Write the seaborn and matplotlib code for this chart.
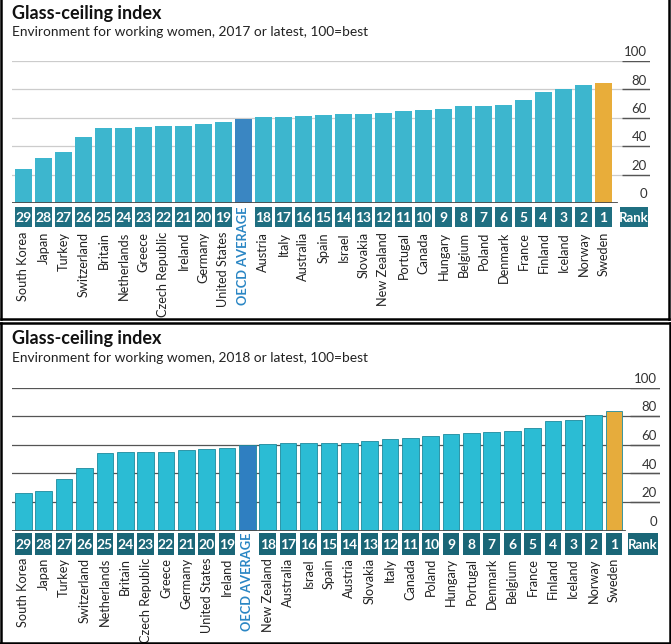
import matplotlib
matplotlib.use("Agg")
import matplotlib.pyplot as plt
from matplotlib.lines import Line2D
import seaborn as sns

W, H = 671, 644

countries_2017 = ["South Korea", "Japan", "Turkey", "Switzerland", "Britain", "Netherlands",
                  "Greece", "Czech Republic", "Ireland", "Germany", "United States",
                  "OECD AVERAGE", "Austria", "Italy", "Australia", "Spain", "Israel",
                  "Slovakia", "New Zealand", "Portugal", "Canada", "Hungary", "Belgium",
                  "Poland", "Denmark", "France", "Finland", "Iceland", "Norway", "Sweden"]
values_2017 = [24.0, 31.7, 36.0, 46.5, 53.0, 53.0, 53.5, 54.0, 54.5, 55.4, 56.8,
               59.4, 60.3, 60.8, 61.3, 61.7, 62.4, 62.6, 63.4, 64.6, 65.5, 66.4, 68.1,
               68.1, 69.0, 72.5, 78.0, 80.5, 83.3, 84.3]

countries_2018 = ["South Korea", "Japan", "Turkey", "Switzerland", "Netherlands", "Britain",
                  "Czech Republic", "Greece", "Germany", "United States", "Ireland",
                  "OECD AVERAGE", "New Zealand", "Australia", "Israel", "Spain", "Austria",
                  "Slovakia", "Italy", "Canada", "Poland", "Hungary", "Portugal", "Denmark",
                  "Belgium", "France", "Finland", "Iceland", "Norway", "Sweden"]
values_2018 = [26.0, 27.9, 35.9, 43.8, 54.3, 54.8, 55.0, 55.2, 56.2, 57.3, 57.5,
               60.1, 60.3, 61.3, 61.3, 61.4, 61.5, 62.9, 63.9, 65.0, 66.0, 67.3, 68.0,
               68.8, 69.7, 71.8, 76.7, 77.6, 80.9, 83.9]

# ranks: 29 ... 19, (OECD average has none), 18 ... 1
ranks = [str(r) for r in range(29, 18, -1)] + [None] + [str(r) for r in range(18, 0, -1)]
y_ticks = [0, 20, 40, 60, 80, 100]

LABEL_FONT = ["Lato", "DejaVu Sans"]
TITLE_FONT = ["Lato", "DejaVu Sans"]


def fx(x):
    return x / W


def fy(y):
    return 1 - y / H


def draw_panel(fig, rect, countries, values, title, subtitle, title_y, sub_y,
               xlim, bar_w, rank_top, rank_bot, label_top, oecd_top, rank_x, rank_w,
               bar_col, avg_col, top_col, box_col, grid_col, edge):
    ax = fig.add_axes(rect)
    cols = [avg_col if c == "OECD AVERAGE" else bar_col for c in countries]
    cols[-1] = top_col
    sns.barplot(x=countries, y=values, hue=countries, palette=cols, legend=False,
                width=bar_w, saturation=1, ax=ax, zorder=2,
                edgecolor=edge, linewidth=0.6 if edge != "none" else 0)
    ax.set_xlim(*xlim)
    ax.set_ylim(0, 100)
    ax.axis("off")

    # gridlines + tick labels on the right
    for t in y_ticks[1:]:
        ax.axhline(t, color=grid_col, lw=0.9, zorder=0)
        ax.hlines(t, rank_x - rank_w / 2 + 0.1, xlim[1], color="#555555", lw=1.0, zorder=1)
    for t in y_ticks:
        ax.text(rank_x + rank_w / 2 - 0.05, t + 2.0, str(t), ha="right", va="bottom",
                fontsize=9.5, color="#333333", family=TITLE_FONT)
    ax.axhline(0, xmin=0, xmax=(rank_x - rank_w / 2 - xlim[0]) / (xlim[1] - xlim[0]) - 0.005,
               color="#4a4a4a", lw=1.3, zorder=3)

    # rank boxes and country labels
    idx = [i for i, r in enumerate(ranks) if r is not None]
    ax.bar(idx, rank_bot - rank_top, bottom=rank_top, width=bar_w, color=box_col,
           clip_on=False, zorder=3)
    ax.bar([rank_x], rank_bot - rank_top, bottom=rank_top, width=rank_w, color=box_col,
           clip_on=False, zorder=3)
    mid = (rank_top + rank_bot) / 2
    for i in idx:
        ax.text(i, mid, ranks[i], ha="center", va="center_baseline", color="white",
                fontsize=10, fontweight="bold", family=LABEL_FONT, zorder=4)
    ax.text(rank_x, mid, "Rank", ha="center", va="center_baseline", color="white",
            fontsize=9.5, fontweight="bold", family=LABEL_FONT, zorder=4)
    for i, c in enumerate(countries):
        if c == "OECD AVERAGE":
            ax.text(i, oecd_top, c, rotation=90, ha="center", va="top", color="#2a86c4",
                    fontsize=9.3, fontweight="bold", family=LABEL_FONT)
        else:
            ax.text(i, label_top, c, rotation=90, ha="center", va="top", color="#222222",
                    fontsize=9.2, family=LABEL_FONT)

    fig.text(fx(12), fy(title_y), title, fontsize=13, fontweight="bold",
             family=TITLE_FONT, va="baseline", color="#111111")
    fig.text(fx(12), fy(sub_y), subtitle, fontsize=9.9, family=TITLE_FONT,
             va="baseline", color="#222222")
    return ax


fig = plt.figure(figsize=(W / 100, H / 100), dpi=100)

# 2017 panel: zero line at y=203px, 100 at y=61px
draw_panel(fig, [fx(12), fy(203), fx(638), 142 / H], countries_2017, values_2017,
           "Glass-ceiling index", "Environment for working women, 2017 or latest, 100=best",
           18.5, 35.5, (-0.57, 31.33), 0.835, -2.8, -16.9, -20.4, -2.8, 30.53, 1.4,
           "#3db6ce", "#3a86c2", "#e8ad3a", "#1f6f81", "#cccccc", "none")

# 2018 panel: zero line at y=530.5px, 100 at y=387.7px
draw_panel(fig, [fx(12), fy(530.5), fx(648), 142.8 / H], countries_2018, values_2018,
           "Glass-ceiling index", "Environment for working women, 2018 or latest, 100=best",
           344, 362.5, (-0.56, 31.26), 0.82, -1.5, -17.1, -19.3, -1.75, 30.42, 1.47,
           "#2bbcd4", "#2f7fc1", "#e6ac3c", "#1a6677", "#555555", "#1d8a9d")

# panel frames
def line(x0, y0, x1, y1, lw=1.8):
    fig.add_artist(Line2D([fx(x0), fx(x1)], [fy(y0), fy(y1)], color="black", lw=lw,
                          transform=fig.transFigure))

line(1, 0, 1, 319)
line(669, 0, 669, 319)
line(1, 319, 669, 319)
line(0, 322.5, 671, 322.5)
line(0.8, 322.5, 0.8, 643)
line(670, 322.5, 670, 643)
line(0, 642.5, 671, 642.5)

fig.savefig("out.png", dpi=100)
